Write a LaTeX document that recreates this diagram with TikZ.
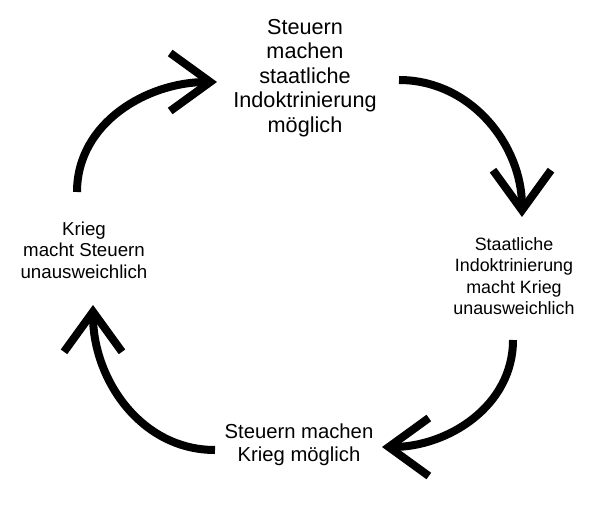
\documentclass[tikz,border=0pt]{standalone}
\usepackage{fontspec}
\setmainfont{Liberation Sans}
\usetikzlibrary{arrows.meta}
\begin{document}
\begin{tikzpicture}[x=0.025cm,y=-0.025cm,
    pfeil/.style={line width=0.2cm,-{Straight Barb[length=1cm,width=1.45cm]}},
    txt/.style={align=center,inner sep=0pt}]
\useasboundingbox (0,0) rectangle (615,510);
\node[txt,font=\fontsize{15.4}{17.4}\selectfont] (oben) at (305,78)
    {Steuern\\machen\\staatliche\\Indoktrinierung\\möglich};
\node[txt,font=\fontsize{12.7}{15.2}\selectfont] (rechts) at (514,276)
    {Staatliche\\Indoktrinierung\\macht Krieg\\unausweichlich};
\node[txt,font=\fontsize{14.4}{16.4}\selectfont] (unten) at (299,445)
    {Steuern machen\\Krieg möglich};
\node[txt,font=\fontsize{13.3}{15.3}\selectfont] (links) at (84,250)
    {Krieg\\macht Steuern\\unausweichlich};

\coordinate (a1) at (77,192);  \coordinate (b1) at (217,82);
\coordinate (a2) at (399,80);  \coordinate (b2) at (522,217);
\coordinate (a3) at (513,340); \coordinate (b3) at (382,447);
\coordinate (a4) at (215,450); \coordinate (b4) at (93,305);
\draw[pfeil] (a1) to[out=90,in=180] (b1);
\draw[pfeil] (a2) to[out=0,in=90] (b2);
\draw[pfeil] (a3) to[out=-90,in=0] (b3);
\draw[pfeil] (a4) to[out=180,in=-90] (b4);
\end{tikzpicture}
\end{document}
